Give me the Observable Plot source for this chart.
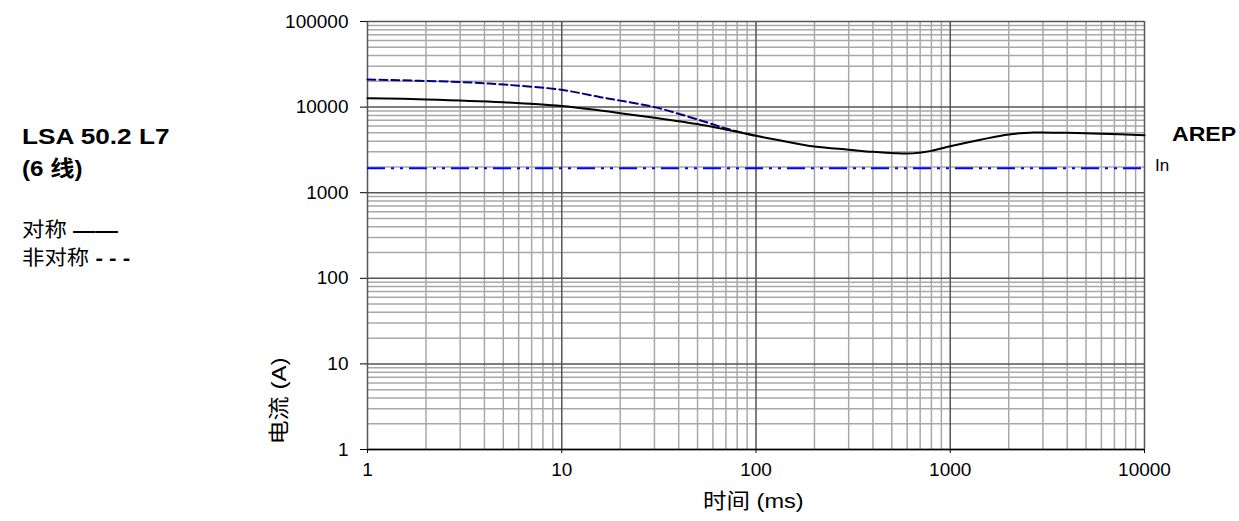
<!DOCTYPE html>
<html>
<head>
<meta charset="utf-8">
<script src="https://cdn.jsdelivr.net/npm/d3@7"></script>
<script src="https://cdn.jsdelivr.net/npm/@observablehq/plot@0.6"></script>
<style>
  html, body { margin: 0; padding: 0; background: #fff; }
  #wrap { position: relative; width: 1239px; height: 521px; font-family: "Liberation Sans", Arial, "Noto Sans CJK SC", sans-serif; color: #000; }
  .lbl { position: absolute; white-space: nowrap; line-height: 1; }
</style>
</head>
<body>
<div id="wrap"></div>
<script>
// Symmetric (对称) curve: time (ms) vs current (A)
const symTime    = [1, 2, 5, 10, 15.8, 20, 30, 52, 71, 100, 134, 200, 300, 400, 520, 640, 800, 1000, 1430, 2000, 2700, 4000, 6000, 10000];
const symCurrent = [12700, 12300, 11400, 10300, 9120, 8500, 7500, 6210, 5430, 4620, 4070, 3460, 3180, 3000, 2890, 2880, 3080, 3480, 4150, 4800, 5050, 5000, 4880, 4700];

// Asymmetric (非对称) curve
const asymTime    = [1, 3, 5.25, 10, 15.8, 20, 30, 52, 71, 100];
const asymCurrent = [21000, 19600, 18200, 15900, 13060, 11900, 10000, 6970, 5580, 4600];

// Rated current In
const inCurrent = 1930;
const timeDomain = [1, 10000];
const currentDomain = [1, 100000];

const xTicks = [1, 10, 100, 1000, 10000];
const yTicks = [1, 10, 100, 1000, 10000, 100000];

const sym = symTime.map((t, i) => ({t, a: symCurrent[i]}));
const asym = asymTime.map((t, i) => ({t, a: asymCurrent[i]}));

function minorValues(lo, hi) {
  const out = [];
  for (let p = lo; p < hi; p *= 10) for (let m = 2; m <= 9; m++) out.push(p * m);
  return out;
}
const xMinor = minorValues(1, 10000);
const yMinor = minorValues(1, 100000);

const chart = Plot.plot({
  width: 1239,
  height: 521,
  marginLeft: 367,
  marginRight: 95,
  marginTop: 21,
  marginBottom: 72,
  style: {fontFamily: '"Liberation Sans", Arial, sans-serif', fontSize: "19px", color: "#000", background: "#fff"},
  x: {type: "log", domain: timeDomain},
  y: {type: "log", domain: currentDomain},
  marks: [
    Plot.ruleX(xMinor, {stroke: "#a8a8a8", strokeWidth: 1.5}),
    Plot.ruleY(yMinor, {stroke: "#a8a8a8", strokeWidth: 1.5}),
    Plot.ruleX(xTicks, {stroke: "#555", strokeWidth: 1.5}),
    Plot.ruleY(yTicks, {stroke: "#555", strokeWidth: 1.5}),
    Plot.ruleY([1], {stroke: "#000", strokeWidth: 1.5}),
    Plot.axisX({ticks: xTicks, tickFormat: d => String(d), tickSize: 4, tickPadding: 9, label: null, stroke: "#000"}),
    Plot.axisY({ticks: yTicks, tickFormat: d => String(d), tickSize: 7, tickPadding: 12, label: null, stroke: "#000"}),
    Plot.ruleY([inCurrent], {stroke: "#0000ff", strokeWidth: 2.2, strokeDasharray: "18,6,3,6,3,6"}),
    Plot.line(asym, {x: "t", y: "a", stroke: "#000080", strokeWidth: 2, strokeDasharray: "8,4", curve: "catmull-rom"}),
    Plot.line(sym, {x: "t", y: "a", stroke: "#000", strokeWidth: 2, curve: "catmull-rom"})
  ]
});

const wrap = document.getElementById("wrap");
wrap.appendChild(chart);
chart.style.position = "absolute";
chart.style.left = "0px";
chart.style.top = "0px";

function addLabel(html, css) {
  const d = document.createElement("div");
  d.className = "lbl";
  d.innerHTML = html;
  Object.assign(d.style, css);
  wrap.appendChild(d);
  return d;
}
addLabel("LSA 50.2 L7", {left: "22px", top: "126px", fontSize: "22px", fontWeight: "bold", transform: "scaleX(1.19)", transformOrigin: "left"});
addLabel("(6 线)", {left: "22px", top: "158px", fontSize: "22px", fontWeight: "bold", transform: "scaleX(1.1)", transformOrigin: "left"});
addLabel("对称 <b>——</b>", {left: "22px", top: "220px", fontSize: "20px", transform: "scaleX(1.12)", transformOrigin: "left"});
addLabel("非对称 <b>- - -</b>", {left: "22px", top: "248px", fontSize: "20px", transform: "scaleX(1.12)", transformOrigin: "left"});
addLabel("AREP", {left: "1172px", top: "123px", fontSize: "21px", fontWeight: "bold", transform: "scaleX(1.1)", transformOrigin: "left"});
addLabel("In", {left: "1155px", top: "157px", fontSize: "17px"});
addLabel("时间 (ms)", {left: "703px", top: "490px", fontSize: "21px", transform: "scaleX(1.12)", transformOrigin: "left"});
addLabel("电流 (A)", {left: "278px", top: "401px", fontSize: "21px", transform: "translate(-50%, -50%) rotate(-90deg) scaleX(1.15)"});
</script>
</body>
</html>
